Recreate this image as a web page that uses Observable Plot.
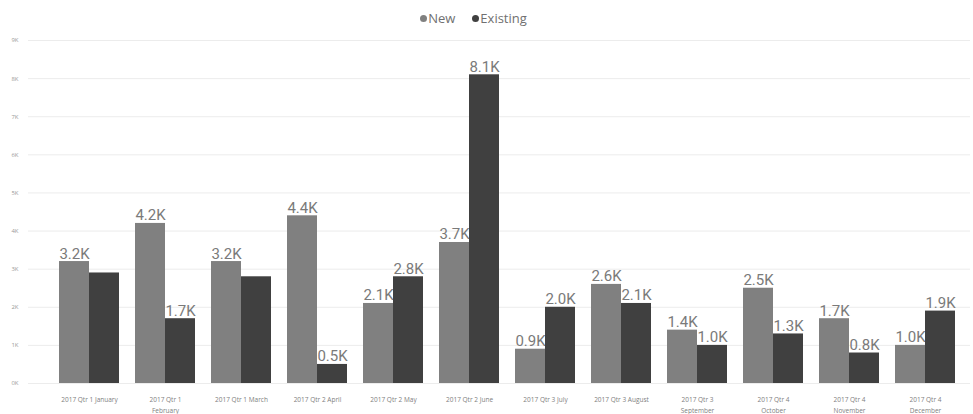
<!DOCTYPE html>
<html>
<head>
<meta charset="utf-8">
<script src="https://cdn.jsdelivr.net/npm/d3@7"></script>
<script src="https://cdn.jsdelivr.net/npm/@observablehq/plot@0.6"></script>
<style>
  body { margin: 0; background: #fff; font-family: "Open Sans", sans-serif; }
  #wrap { width: 973px; height: 414px; position: relative; overflow: hidden; }
  #legend { height: 30px; display: flex; justify-content: center; align-items: center; gap: 17px; font-size: 13px; color: #707070; padding-right: 26px; box-sizing: border-box; padding-top: 6px; }
  #legend span.item { display: flex; align-items: center; }
  #legend span.dot { width: 7px; height: 7px; border-radius: 50%; display: inline-block; margin-right: 1px; }
  svg { display: block; }
</style>
</head>
<body>
<div id="wrap">
  <div id="legend"></div>
  <div id="chart"></div>
</div>
<script>
const months = [
  "2017 Qtr 1 January",
  "2017 Qtr 1\nFebruary",
  "2017 Qtr 1 March",
  "2017 Qtr 2 April",
  "2017 Qtr 2 May",
  "2017 Qtr 2 June",
  "2017 Qtr 3 July",
  "2017 Qtr 3 August",
  "2017 Qtr 3\nSeptember",
  "2017 Qtr 4\nOctober",
  "2017 Qtr 4\nNovember",
  "2017 Qtr 4\nDecember"
];
const seriesNames = ["New", "Existing"];
const newValues = [3200, 4200, 3200, 4400, 2100, 3700, 900, 2600, 1400, 2500, 1700, 1000];
const existingValues = [2900, 1700, 2800, 500, 2800, 8100, 2000, 2100, 1000, 1300, 800, 1900];
const existingLabelShown = [false, true, false, true, true, true, true, true, true, true, true, true];
const yTicks = [0, 1000, 2000, 3000, 4000, 5000, 6000, 7000, 8000, 9000];

const colors = {New: "#808080", Existing: "#404040"};
const BAR_W = 30;

const rows = months.flatMap((m, i) => [
  {month: m, series: "New", value: newValues[i], show: true},
  {month: m, series: "Existing", value: existingValues[i], show: existingLabelShown[i]}
]);
const newRows = rows.filter(d => d.series === "New");
const exRows = rows.filter(d => d.series === "Existing");
const fmt = v => d3.format(".1f")(v / 1000) + "K";

// legend
const legend = document.getElementById("legend");
for (const s of seriesNames) {
  const it = document.createElement("span");
  it.className = "item";
  const dot = document.createElement("span");
  dot.className = "dot";
  dot.style.background = colors[s];
  it.appendChild(dot);
  it.appendChild(document.createTextNode(s));
  legend.appendChild(it);
}

const labelStyle = {fontSize: 15, fill: "#7a7a7a", fontFamily: "Roboto, sans-serif", letterSpacing: "0.9px", lineAnchor: "bottom", dy: -3};

const chart = Plot.plot({
  width: 973,
  height: 384,
  marginTop: 10,
  marginBottom: 31,
  marginLeft: 28,
  marginRight: 3,
  style: {background: "#fff", fontFamily: "Open Sans, sans-serif"},
  x: {domain: months, paddingInner: 0.608, paddingOuter: 0, insetLeft: 42, insetRight: 27, label: null},
  y: {domain: [0, 9000], label: null},
  marks: [
    Plot.gridY(yTicks, {stroke: "#ececec", strokeOpacity: 1}),
    Plot.axisY(yTicks, {tickSize: 0, tickPadding: 10, fontSize: 6, fill: "#999", tickFormat: d => d / 1000 + "K", label: null}),
    Plot.axisX({tickSize: 0, tickPadding: 10, fontSize: 6.5, fill: "#808080", lineHeight: 1.75, label: null}),
    Plot.text(newRows, {x: "month", y: "value", text: d => fmt(d.value), dx: -BAR_W / 2, ...labelStyle}),
    Plot.text(exRows.filter(d => d.show), {x: "month", y: "value", text: d => fmt(d.value), dx: BAR_W / 2, ...labelStyle}),
    Plot.barY(newRows, {x: "month", y: "value", fill: colors.New, dx: -BAR_W / 2}),
    Plot.barY(exRows, {x: "month", y: "value", fill: colors.Existing, dx: BAR_W / 2})
  ]
});
document.getElementById("chart").appendChild(chart);
</script>
</body>
</html>
